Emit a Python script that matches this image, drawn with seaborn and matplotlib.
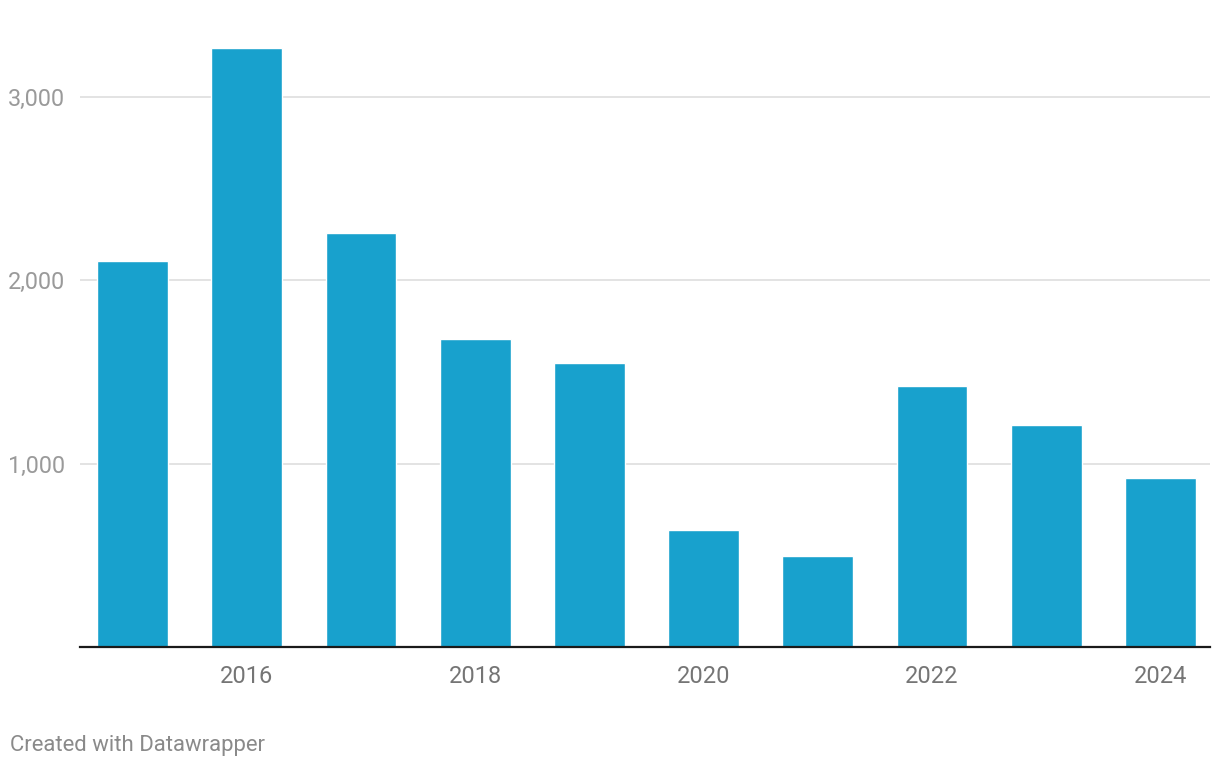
import matplotlib
matplotlib.use("Agg")
import matplotlib.pyplot as plt
import matplotlib.ticker as mticker
import seaborn as sns
import pandas as pd

# valeurs
years = ["2015", "2016", "2017", "2018", "2019", "2020", "2021", "2022", "2023", "2024"]
values = [2105, 3268, 2258, 1680, 1549, 638, 496, 1424, 1211, 922]
xtick_labels = ["2016", "2018", "2020", "2022", "2024"]
ytick_values = [1000, 2000, 3000]

sns.set_theme(style="white")
plt.rcParams['font.family'] = ['Roboto', 'DejaVu Sans']

df = pd.DataFrame({"year": years, "value": values})

fig = plt.figure(figsize=(12.2, 7.7), dpi=100)
ax = fig.add_axes([80 / 1220, 123 / 770, 1130 / 1220, 607 / 770])

sns.barplot(data=df, x="year", y="value", color="#18a1cd", saturation=1,
            width=0.62, ax=ax, zorder=3)

ax.set_xlim(-0.46, 9.435)
ax.set_ylim(0, 3311)

# lignes de grille horizontales
ax.set_yticks(ytick_values)
ax.yaxis.set_major_formatter(mticker.FuncFormatter(lambda v, p: f"{int(v):,}"))
ax.grid(axis="y", color="#e3e3e3", linewidth=1.4, zorder=0)
ax.tick_params(axis="y", length=0, pad=11, labelsize=16.8, labelcolor="#9a9a9a")

ax.set_xticks([years.index(y) for y in xtick_labels])
ax.set_xticklabels(xtick_labels)
ax.tick_params(axis="x", length=0, pad=13, labelsize=17, labelcolor="#757575")

for side in ["top", "right", "left"]:
    ax.spines[side].set_visible(False)
ax.spines["bottom"].set_color("#1a1a1a")
ax.spines["bottom"].set_linewidth(1.6)
ax.spines["bottom"].set_zorder(4)

ax.set_xlabel("")
ax.set_ylabel("")

fig.text(10 / 1220, 1 - 746 / 770, "Created with Datawrapper", fontsize=15.9,
         color="#8a8a8a", ha="left", va="center")

fig.savefig("out.png", dpi=100, facecolor="white")
